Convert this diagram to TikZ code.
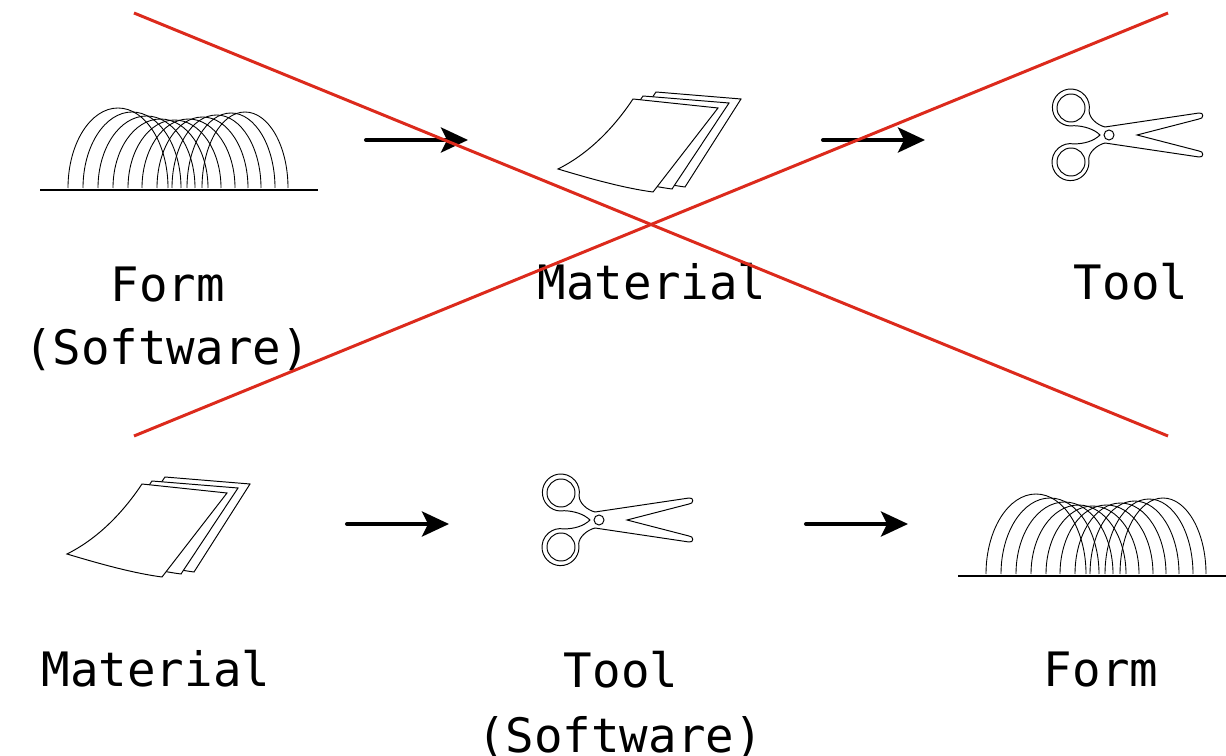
\documentclass[tikz,border=0pt]{standalone}
\usepackage{fontspec}
\setmonofont{DejaVu Sans Mono}
\usepackage{tikz}
\usetikzlibrary{arrows.meta}

\definecolor{crossred}{RGB}{220,42,28}

\tikzset{
	word/.style={font=\ttfamily\fontsize{27}{32}\selectfont, anchor=base, inner sep=0pt},
	flow/.style={line width=2.3pt, line cap=round, -{Stealth[length=0.54cm,width=0.5cm,inset=0.12cm]}},
	icon/.style={line width=0.55pt, fill=white},
	% a row of arches standing on a ground line
	arches/.pic={
		\draw[line width=1.1pt] (0,0) -- (278,0);
		\foreach \l/\r/\h in {28/128/80, 43/141/76, 58/155/72, 73/168/69, 88/181/68,
			102/195/69, 117/208/71, 132/221/73, 147/235/75, 162/248/76}
		{ \draw[line width=0.5pt] (\l,-2) arc[start angle=180, end angle=360, x radius={(\r-\l)/2}, y radius=\h];
		}
	},
	% three sheets of paper
	sheets/.pic={
		\draw[icon] (23,-7) -- (108,0) -- (52,88) .. controls (22,84) and (-22,72) .. (-52,63) .. controls (-22,48) and (3,23) .. cycle;
		\draw[icon] (10,-3) -- (96,4) -- (39,90) .. controls (9,86) and (-33,75) .. (-63,66) .. controls (-33,51) and (-10,27) .. cycle;
		\draw[icon] (0,0) -- (85,9) -- (20,93) .. controls (-10,89) and (-45,79) .. (-75,70) .. controls (-45,55) and (-20,30) .. cycle;
	},
	% scissors, origin at the pivot
	shears/.pic={
		\draw[icon] (-9,0) .. controls (-15,-6) and (-25,-9) .. (-34.9,-9.3)
			arc[start angle=80, end angle=370, radius=18.5]
			.. controls (-20,-17) and (-12,-10) .. (-4,-8) -- (90,-22)
			.. controls (95,-23) and (95,-16) .. (90,-16) -- (28,0) -- (90,16)
			.. controls (95,16) and (95,23) .. (90,22) -- (-4,8)
			.. controls (-12,10) and (-20,17) .. (-20.3,23.9)
			arc[start angle=-10, end angle=280, radius=18.5]
			.. controls (-25,9) and (-15,6) .. cycle;
		\draw[icon] (-38,-27) circle (14);
		\draw[icon] (-38,27) circle (14);
		\draw[icon] (0,0) circle (5);
	},
}

\begin{document}
\begin{tikzpicture}[x=0.02cm, y=-0.02cm]
	\useasboundingbox (0,0) rectangle (1226,756);

	% upper row
	\pic at (40,190) {arches};
	\pic at (633,99) {sheets};
	\pic at (1109,135) {shears};
	\node[word] (form1) at (168,302) {Form};
	\node[word] (soft1) at (167,365) {(Software)};
	\node[word] (mat1) at (652,300) {Material};
	\node[word] (tool1) at (1131,300) {Tool};
	\coordinate (a1s) at (366,140);
	\coordinate (a1e) at (468,140);
	\coordinate (a2s) at (823,140);
	\coordinate (a2e) at (925,140);
	\draw[flow] (a1s) -- (a1e);
	\draw[flow] (a2s) -- (a2e);

	% lower row
	\pic at (142,484) {sheets};
	\pic at (599,520) {shears};
	\pic at (958,576) {arches};
	\node[word] (mat2) at (156,686) {Material};
	\node[word] (tool2) at (621,687) {Tool};
	\node[word] (soft2) at (620,752) {(Software)};
	\node[word] (form2) at (1101,686) {Form};
	\coordinate (b1s) at (347,524);
	\coordinate (b1e) at (449,524);
	\coordinate (b2s) at (806,524);
	\coordinate (b2e) at (908,524);
	\draw[flow] (b1s) -- (b1e);
	\draw[flow] (b2s) -- (b2e);

	% crossed out
	\coordinate (xtl) at (134,13);
	\coordinate (xtr) at (1168,13);
	\coordinate (xbl) at (134,436);
	\coordinate (xbr) at (1168,436);
	\draw[crossred, line width=1.7pt] (xtl) -- (xbr);
	\draw[crossred, line width=1.7pt] (xbl) -- (xtr);
\end{tikzpicture}
\end{document}
